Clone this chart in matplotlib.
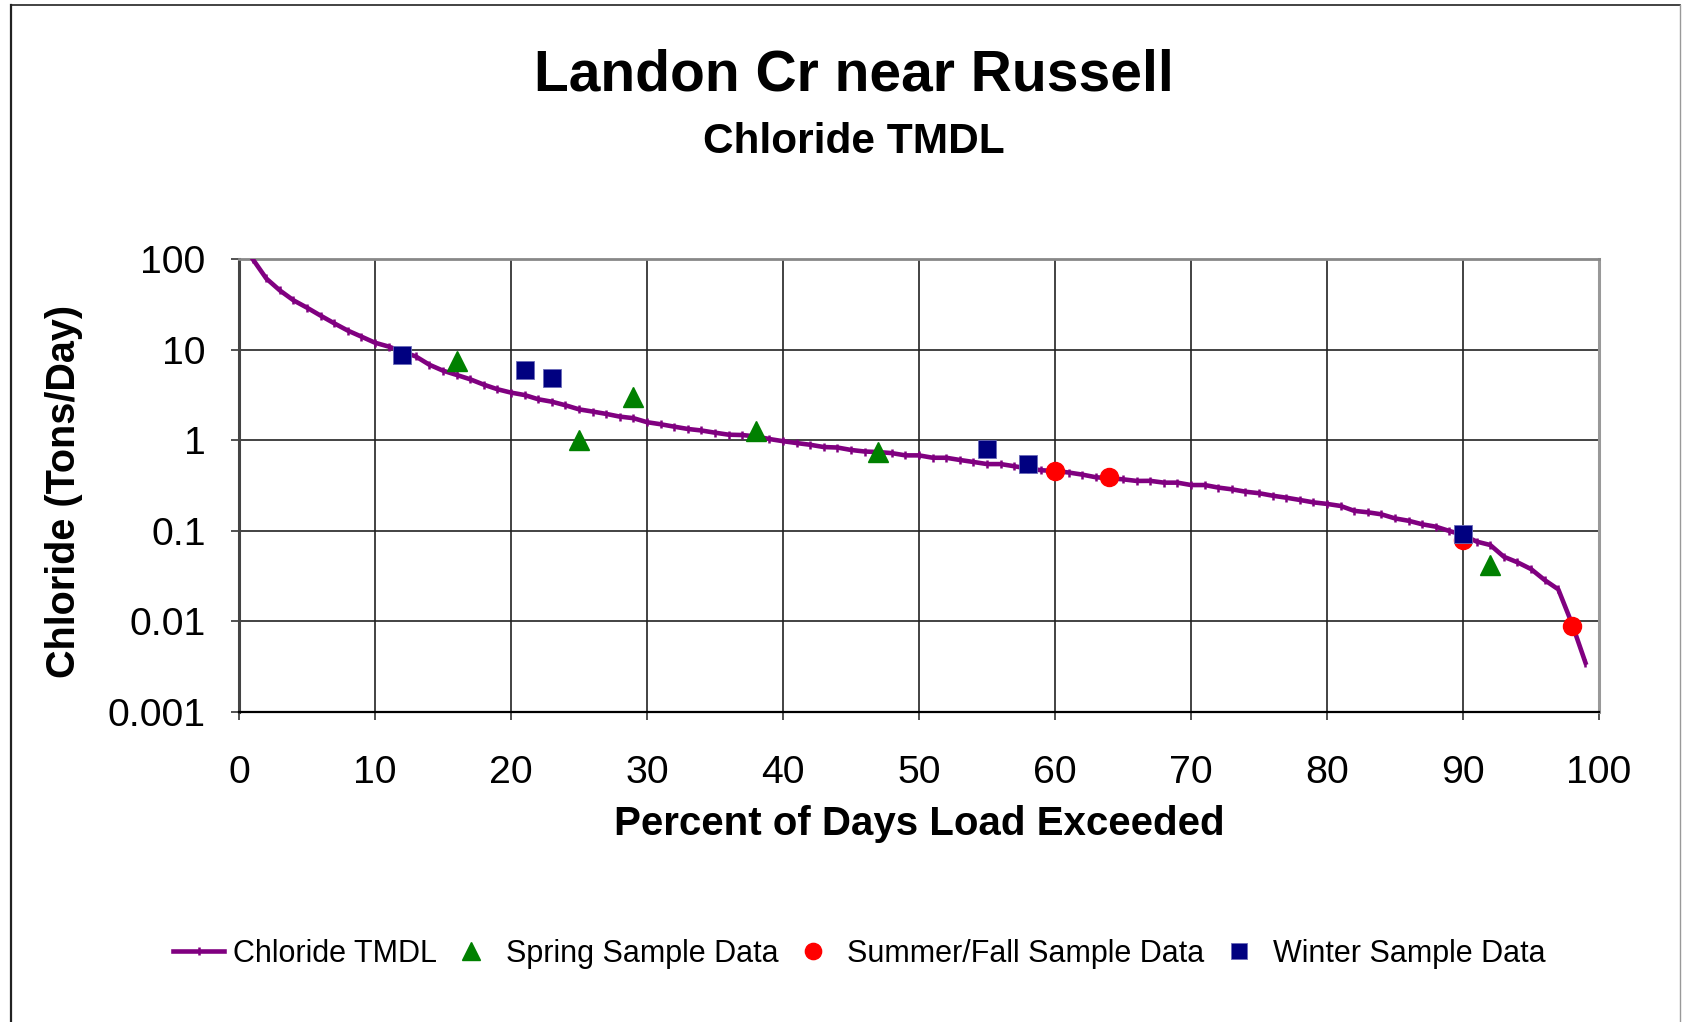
import matplotlib.pyplot as plt
import numpy as np
from matplotlib.lines import Line2D
from matplotlib.ticker import FixedLocator, FixedFormatter

plt.rcParams['font.family'] = ['Liberation Sans', 'DejaVu Sans']

# load duration curve, one value per percent (1..99)
pct = np.arange(1, 100)
tmdl = [100, 61, 45, 35, 29, 23.7, 19.5, 16.2, 13.9, 11.9,
        10.8, 9.5, 8.4, 6.8, 5.85, 5.25, 4.7, 4.1, 3.65, 3.35,
        3.15, 2.83, 2.66, 2.43, 2.19, 2.07, 1.95, 1.82, 1.75, 1.58,
        1.50, 1.41, 1.33, 1.28, 1.21, 1.15, 1.14, 1.10, 1.03, 0.975,
        0.93, 0.89, 0.84, 0.83, 0.78, 0.75, 0.74, 0.72, 0.68, 0.68,
        0.64, 0.64, 0.605, 0.575, 0.545, 0.545, 0.516, 0.487, 0.466, 0.457,
        0.44, 0.417, 0.39, 0.38, 0.37, 0.355, 0.356, 0.34, 0.34, 0.32,
        0.32, 0.30, 0.287, 0.27, 0.26, 0.244, 0.232, 0.219, 0.206, 0.198,
        0.188, 0.166, 0.160, 0.152, 0.137, 0.129, 0.118, 0.111, 0.0995, 0.09,
        0.076, 0.0697, 0.0517, 0.0449, 0.0378, 0.0286, 0.0226, 0.0095, 0.0035]

spring_x = [16, 25, 29, 38, 47, 92]
spring_y = [7.5, 1.0, 2.97, 1.27, 0.75, 0.042]
summer_x = [60, 64, 90, 98]
summer_y = [0.457, 0.39, 0.08, 0.009]
winter_x = [12, 21, 23, 55, 58, 90]
winter_y = [8.7, 5.96, 4.82, 0.79, 0.54, 0.093]

yticks = [0.001, 0.01, 0.1, 1, 10, 100]
ytick_labels = ['0.001', '0.01', '0.1', '1', '10', '100']
xticks = list(range(0, 101, 10))

fig = plt.figure(figsize=(16.82, 10.22), dpi=100)
ax = fig.add_axes([0.1421, 0.3033, 0.8086, 0.4433])

ax.plot(pct, tmdl, color='#800080', lw=3.3, marker='|', ms=6, mew=1.8,
        label='Chloride TMDL', zorder=3)
ax.plot(spring_x, spring_y, ls='none', marker='^', ms=14, color='#008000',
        label='Spring Sample Data', zorder=4)
ax.plot(summer_x, summer_y, ls='none', marker='o', ms=13, color='#FF0000',
        label='Summer/Fall Sample Data', zorder=5)
ax.plot(winter_x, winter_y, ls='none', marker='s', ms=13, color='#000080',
        mec='#6a6ab8', mew=0.6, label='Winter Sample Data', zorder=6)

ax.set_yscale('log')
ax.set_ylim(0.001, 100)
ax.set_xlim(0, 100)
ax.yaxis.set_major_locator(FixedLocator(yticks))
ax.yaxis.set_major_formatter(FixedFormatter(ytick_labels))
ax.yaxis.set_minor_locator(FixedLocator([]))
ax.set_xticks(xticks)
ax.grid(True, which='major', color='#222222', lw=1.2)
ax.set_axisbelow(True)
ax.tick_params(axis='both', direction='out', length=6, width=1.2,
               labelsize=28.3, color='#333333')
ax.tick_params(axis='x', pad=25)
ax.tick_params(axis='y', pad=18)

ax.spines['left'].set_color('#444444')
ax.spines['left'].set_linewidth(2.2)
ax.spines['bottom'].set_color('black')
ax.spines['bottom'].set_linewidth(1.6)
ax.spines['top'].set_color('#888888')
ax.spines['top'].set_linewidth(2)
ax.spines['right'].set_color('#999999')
ax.spines['right'].set_linewidth(2.2)

ax.set_xlabel('Percent of Days Load Exceeded', fontsize=29, fontweight='bold', va='center')
ax.xaxis.set_label_coords(0.5, -0.247)
ax.set_ylabel('Chloride (Tons/Day)', fontsize=28.5, fontweight='bold', va='center')
ax.yaxis.set_label_coords(-0.1287, 0.488)

fig.text(0.5077, 0.9266, 'Landon Cr near Russell', fontsize=41, fontweight='bold',
         ha='center', va='center')
fig.text(0.5077, 0.8614, 'Chloride TMDL', fontsize=30.5, fontweight='bold',
         ha='center', va='center')

fig.legend(loc='center', bbox_to_anchor=(0.511, 0.0665), ncol=4, frameon=False,
           fontsize=22, handlelength=1.65, handletextpad=0.3, columnspacing=0.3,
           markerscale=0.9)

# outer chart border
fig.add_artist(Line2D([0.0065, 0.0065], [0, 0.995], color='#222222', lw=1.6))
fig.add_artist(Line2D([0.0065, 0.999], [0.995, 0.995], color='#222222', lw=1.2))
fig.add_artist(Line2D([0.999, 0.999], [0, 0.995], color='#999999', lw=1))

fig.savefig('out.png', dpi=100)
